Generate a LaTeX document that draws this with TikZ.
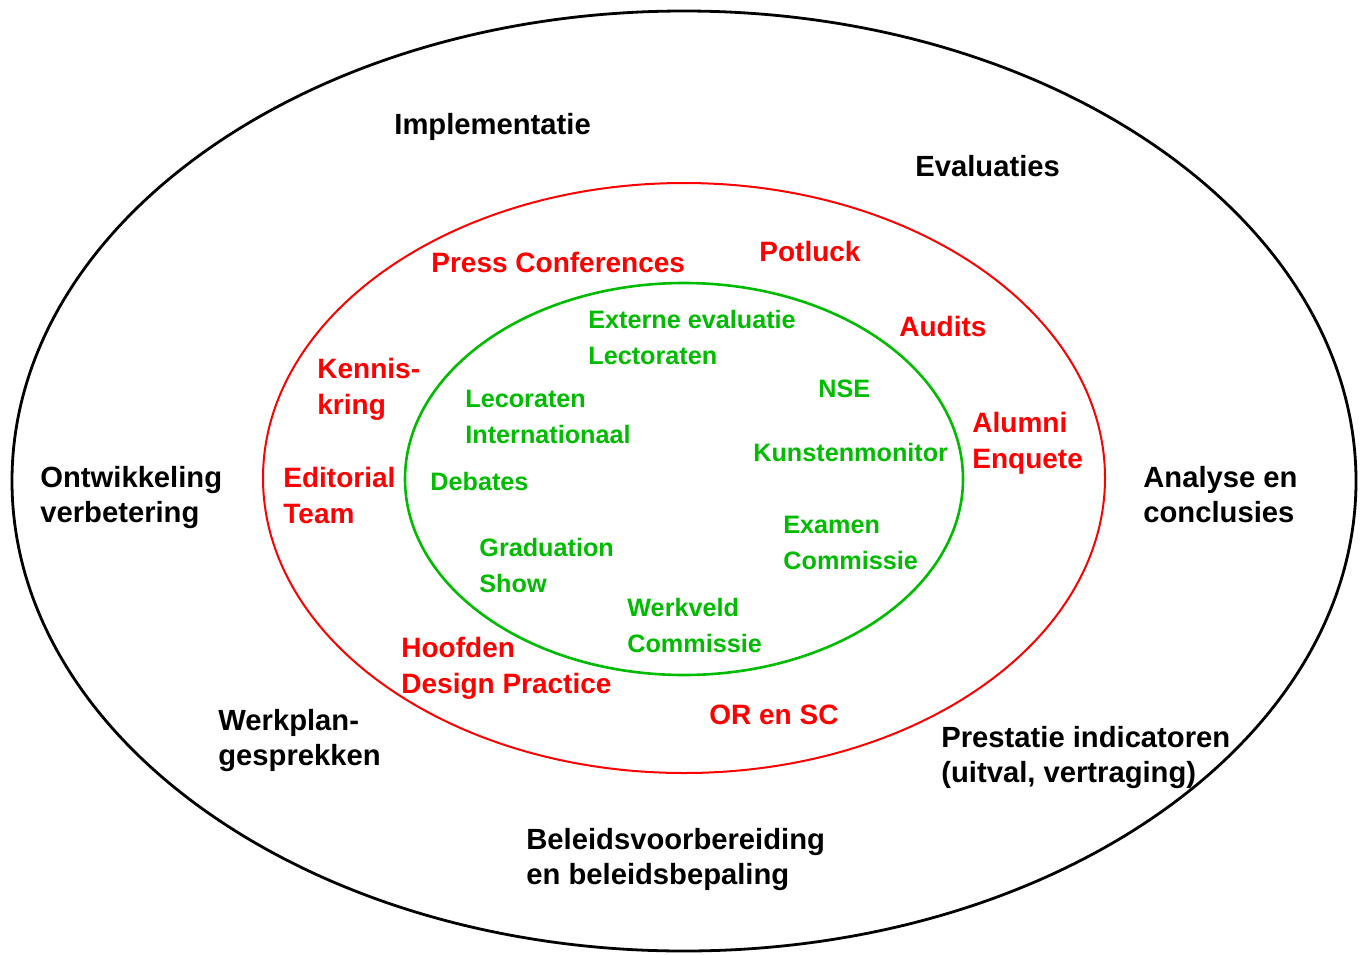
\documentclass[tikz,border=0pt]{standalone}
\usepackage{fontspec}
\setmainfont{Liberation Sans}
\definecolor{ringred}{RGB}{255,0,0}
\definecolor{ringgreen}{RGB}{0,187,0}

\begin{document}
\begin{tikzpicture}[x=0.5pt, y=-0.5pt,
    lbl/.style={anchor=base west, inner sep=0pt, align=left},
    outerlbl/.style={lbl, font=\bfseries\fontsize{14.6}{17.5}\selectfont},
    midlbl/.style={lbl, text=ringred, font=\bfseries\fontsize{14}{17.8}\selectfont},
    innerlbl/.style={lbl, text=ringgreen, font=\bfseries\fontsize{12.6}{18}\selectfont}]
    \useasboundingbox (0,0) rectangle (1360,954);

    % Define coordinates
    \coordinate (C) at (684,481);
    \coordinate (R) at (684,478);
    \coordinate (G) at (684,479);

    % Draw the three rings
    \draw[line width=1.4pt] (C) ellipse [x radius=672, y radius=470];
    \draw[line width=1pt, ringred] (R) ellipse [x radius=421, y radius=295];
    \draw[line width=1.3pt, ringgreen] (G) ellipse [x radius=279, y radius=196];

    % Outer ring labels (y = baseline of the last line)
    \node[outerlbl] (impl) at (394,134) {Implementatie};
    \node[outerlbl] (eval) at (915,176) {Evaluaties};
    \node[outerlbl] (ontw) at (40,522) {Ontwikkeling\\verbetering};
    \node[outerlbl] (anal) at (1143,522) {Analyse en\\conclusies};
    \node[outerlbl] (werk) at (218,765) {Werkplan-\\gesprekken};
    \node[outerlbl] (pres) at (941,782) {Prestatie indicatoren\\(uitval, vertraging)};
    \node[outerlbl] (bele) at (526,884) {Beleidsvoorbereiding\\en beleidsbepaling};

    % Middle ring labels
    \node[midlbl] (press) at (431,272) {Press Conferences};
    \node[midlbl] (potl) at (759,261) {Potluck};
    \node[midlbl] (audi) at (899,336) {Audits};
    \node[midlbl] (kenn) at (317,414) {Kennis-\\kring};
    \node[midlbl] (alum) at (972,468) {Alumni\\Enquete};
    \node[midlbl] (edit) at (283,523) {Editorial\\Team};
    \node[midlbl] (hoof) at (401,693) {Hoofden\\Design Practice};
    \node[midlbl] (orsc) at (709,724) {OR en SC};

    % Inner ring labels
    \node[innerlbl] (exte) at (588,364) {Externe evaluatie\\Lectoraten};
    \node[innerlbl] (nse) at (818,397) {NSE};
    \node[innerlbl] (leco) at (465,443) {Lecoraten\\Internationaal};
    \node[innerlbl] (kuns) at (753,461) {Kunstenmonitor};
    \node[innerlbl] (deba) at (430,490) {Debates};
    \node[innerlbl] (exam) at (783,569) {Examen\\Commissie};
    \node[innerlbl] (grad) at (479,592) {Graduation\\Show};
    \node[innerlbl] (wkvd) at (627,652) {Werkveld\\Commissie};
\end{tikzpicture}
\end{document}
